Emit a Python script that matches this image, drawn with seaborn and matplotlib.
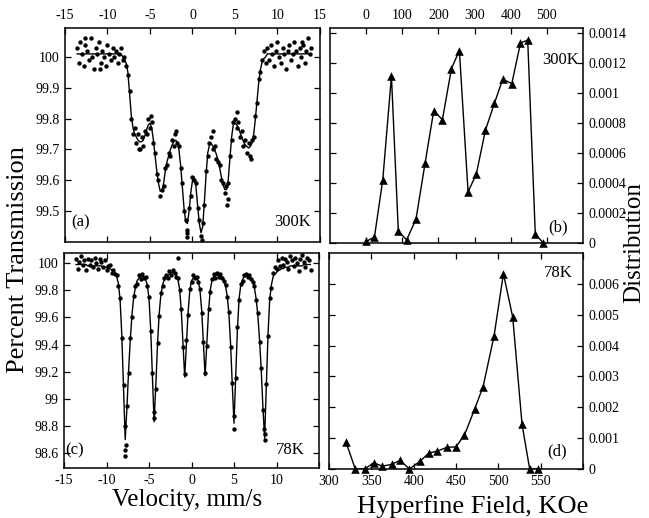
import numpy as np
import pandas as pd
import seaborn as sns
import matplotlib.pyplot as plt

sns.set_theme(style="ticks")
plt.rcParams['font.family'] = ['Liberation Serif', 'DejaVu Serif']

# ---- Mossbauer spectra: velocity channels (mm/s) ----
vel = [-13.6, -13.4, -13.2, -13.0, -12.8, -12.6, -12.4, -12.2, -12.0, -11.8,
       -11.6, -11.4, -11.2, -11.0, -10.8, -10.6, -10.4, -10.2, -10.0, -9.8,
       -9.6, -9.4, -9.2, -9.0, -8.8, -8.6, -8.4, -8.2, -8.0, -7.8,
       -7.6, -7.4, -7.2, -7.0, -6.8, -6.6, -6.4, -6.2, -6.0, -5.8,
       -5.6, -5.4, -5.2, -5.0, -4.8, -4.6, -4.4, -4.2, -4.0, -3.8,
       -3.6, -3.4, -3.2, -3.0, -2.8, -2.6, -2.4, -2.2, -2.0, -1.8,
       -1.6, -1.4, -1.2, -1.0, -0.8, -0.6, -0.4, -0.2, 0.0, 0.2,
       0.4, 0.6, 0.8, 1.0, 1.2, 1.4, 1.6, 1.8, 2.0, 2.2,
       2.4, 2.6, 2.8, 3.0, 3.2, 3.4, 3.6, 3.8, 4.0, 4.2,
       4.4, 4.6, 4.8, 5.0, 5.2, 5.4, 5.6, 5.8, 6.0, 6.2,
       6.4, 6.6, 6.8, 7.0, 7.2, 7.4, 7.6, 7.8, 8.0, 8.2,
       8.4, 8.6, 8.8, 9.0, 9.2, 9.4, 9.6, 9.8, 10.0, 10.2,
       10.4, 10.6, 10.8, 11.0, 11.2, 11.4, 11.6, 11.8, 12.0, 12.2,
       12.4, 12.6, 12.8, 13.0, 13.2, 13.4, 13.6, 13.8, 14.0]

# 300K: measured points and fitted curve (% transmission)
trans_300 = [100.03, 99.98, 100.05, 100.01, 99.97, 100.04, 100.02, 99.99, 100.06, 100.00,
             99.96, 100.03, 100.01, 100.05, 99.98, 100.02, 100.00, 99.97, 100.04, 100.01,
             99.99, 100.03, 100.00, 100.02, 99.98, 100.01, 100.03, 99.99, 100.00, 99.97,
             99.94, 99.89, 99.80, 99.75, 99.77, 99.72, 99.75, 99.70, 99.74, 99.71,
             99.76, 99.75, 99.80, 99.77, 99.79, 99.72, 99.69, 99.62, 99.60, 99.55,
             99.57, 99.58, 99.64, 99.65, 99.69, 99.68, 99.73, 99.71, 99.75, 99.72,
             99.71, 99.64, 99.59, 99.50, 99.47, 99.44, 99.51, 99.55, 99.61, 99.60,
             99.59, 99.51, 99.47, 99.42, 99.46, 99.52, 99.63, 99.68, 99.72, 99.74,
             99.70, 99.71, 99.67, 99.66, 99.65, 99.60, 99.59, 99.56, 99.58, 99.59,
             99.68, 99.73, 99.79, 99.80, 99.77, 99.79, 99.74, 99.76, 99.71, 99.73,
             99.69, 99.72, 99.68, 99.73, 99.74, 99.81, 99.85, 99.93, 99.95, 99.99,
             100.02, 99.98, 100.03, 99.99, 100.04, 100.01, 99.97, 100.02, 100.05, 100.00,
             99.98, 100.03, 100.01, 99.96, 100.02, 100.04, 99.99, 100.01, 100.05, 100.02,
             99.97, 100.03, 100.00, 100.04, 99.98, 100.02, 100.06, 100.01, 100.03]
fit_300 = [100.01, 100.01, 100.01, 100.01, 100.01, 100.01, 100.01, 100.01, 100.01, 100.01,
           100.01, 100.01, 100.01, 100.01, 100.01, 100.01, 100.01, 100.01, 100.01, 100.01,
           100.01, 100.01, 100.01, 100.01, 100.01, 100.01, 100.01, 100.00, 99.99, 99.98,
           99.95, 99.88, 99.81, 99.77, 99.75, 99.74, 99.73, 99.725, 99.725, 99.73,
           99.745, 99.765, 99.78, 99.785, 99.77, 99.73, 99.68, 99.63, 99.59, 99.565,
           99.565, 99.59, 99.63, 99.66, 99.68, 99.70, 99.715, 99.725, 99.73, 99.725,
           99.70, 99.65, 99.58, 99.51, 99.465, 99.46, 99.50, 99.56, 99.60, 99.61,
           99.58, 99.52, 99.46, 99.43, 99.45, 99.53, 99.62, 99.69, 99.715, 99.72,
           99.71, 99.70, 99.685, 99.665, 99.64, 99.61, 99.585, 99.57, 99.57, 99.60,
           99.67, 99.74, 99.78, 99.785, 99.78, 99.77, 99.755, 99.74, 99.725, 99.715,
           99.71, 99.705, 99.71, 99.72, 99.75, 99.80, 99.86, 99.92, 99.96, 99.985,
           99.995, 100.00, 100.01, 100.01, 100.01, 100.01, 100.01, 100.01, 100.01, 100.01,
           100.01, 100.01, 100.01, 100.01, 100.01, 100.01, 100.01, 100.01, 100.01, 100.01,
           100.01, 100.01, 100.01, 100.01, 100.01, 100.01, 100.01, 100.01, 100.01]
extra_vel_300 = [-0.7, 1.1, -0.6, 4.1, 4.2, 2.4, -1.9, -4.9, 5.2, 6.9, -6.3, -12.7, 12.9, -10.9]
extra_trans_300 = [99.415, 99.405, 99.43, 99.52, 99.54, 99.76, 99.76, 99.81, 99.82, 99.67,
                   99.70, 100.06, 100.05, 99.96]

# 78K: measured points and fitted curve (% transmission)
trans_78 = [100.03, 99.96, 100.01, 100.05, 99.99, 100.02, 99.95, 100.03, 99.99, 100.02,
            99.97, 100.04, 100.00, 99.96, 100.03, 100.01, 99.97, 100.02, 99.95, 99.98,
            99.99, 99.93, 99.95, 99.92, 99.91, 99.83, 99.74, 99.45, 99.10, 98.62,
            98.95, 99.19, 99.45, 99.60, 99.76, 99.83, 99.85, 99.91, 99.88, 99.92,
            99.89, 99.90, 99.83, 99.75, 99.50, 99.19, 98.86, 99.07, 99.41, 99.61,
            99.78, 99.83, 99.89, 99.91, 99.89, 99.94, 99.91, 99.95, 99.93, 99.90,
            99.89, 99.80, 99.66, 99.38, 99.18, 99.43, 99.62, 99.81, 99.86, 99.91,
            99.89, 99.90, 99.86, 99.81, 99.63, 99.42, 99.19, 99.39, 99.66, 99.79,
            99.88, 99.92, 99.89, 99.93, 99.90, 99.92, 99.89, 99.87, 99.84, 99.75,
            99.64, 99.38, 99.12, 98.78, 99.15, 99.53, 99.73, 99.85, 99.87, 99.91,
            99.92, 99.90, 99.91, 99.88, 99.86, 99.83, 99.73, 99.63, 99.42, 99.23,
            98.92, 98.70, 99.11, 99.46, 99.74, 99.82, 99.93, 99.97, 99.96, 100.02,
            99.98, 100.04, 99.99, 100.03, 100.01, 99.96, 100.05, 100.02, 99.98, 100.04,
            100.00, 99.94, 100.03, 100.06, 100.01, 99.97, 100.04, 100.02, 99.95]
fit_78 = [99.99, 99.99, 99.99, 99.99, 99.99, 99.99, 99.99, 99.98, 99.98, 99.98,
          99.98, 99.98, 99.98, 99.98, 99.98, 99.98, 99.97, 99.97, 99.97, 99.96,
          99.96, 99.95, 99.94, 99.93, 99.90, 99.85, 99.73, 99.47, 99.08, 98.70,
          98.93, 99.21, 99.44, 99.62, 99.75, 99.82, 99.87, 99.89, 99.90, 99.90,
          99.90, 99.88, 99.84, 99.74, 99.51, 99.17, 98.83, 99.10, 99.40, 99.63,
          99.77, 99.84, 99.88, 99.90, 99.91, 99.92, 99.93, 99.93, 99.92, 99.91,
          99.88, 99.81, 99.65, 99.40, 99.16, 99.40, 99.64, 99.80, 99.87, 99.89,
          99.90, 99.89, 99.87, 99.80, 99.65, 99.41, 99.17, 99.41, 99.64, 99.80,
          99.87, 99.90, 99.91, 99.91, 99.91, 99.90, 99.90, 99.88, 99.83, 99.76,
          99.63, 99.40, 99.10, 98.82, 99.16, 99.51, 99.74, 99.84, 99.88, 99.90,
          99.90, 99.91, 99.90, 99.89, 99.87, 99.82, 99.74, 99.62, 99.44, 99.22,
          98.94, 98.71, 99.09, 99.47, 99.73, 99.84, 99.90, 99.92, 99.93, 99.95,
          99.95, 99.96, 99.96, 99.97, 99.97, 99.97, 99.98, 99.98, 99.98, 99.98,
          99.98, 99.98, 99.98, 99.98, 99.99, 99.99, 99.99, 99.99, 99.99]
extra_vel_78 = [-7.85, -7.75, -7.8, -4.45, 4.95, 8.55, -1.6, 8.65]
extra_trans_78 = [98.58, 98.66, 98.80, 98.90, 98.87, 98.78, 100.04, 98.74]

# ---- Hyperfine field distributions ----
field_300 = [0, 23, 46, 70, 89, 112, 138, 163, 187, 211, 236, 258, 282, 305, 330,
             355, 378, 403, 427, 447, 468, 490]
dist_300 = [0.00001, 0.00004, 0.00042, 0.00111, 0.00008, 0.00002, 0.00016, 0.00053,
            0.00088, 0.00082, 0.00116, 0.00128, 0.00034, 0.00046, 0.00075, 0.00093,
            0.00109, 0.00106, 0.00133, 0.00135, 0.00006, 0.0]
field_78 = [320, 331, 342, 353, 363, 374, 384, 395, 408, 418, 428, 439, 450, 460, 472,
            482, 495, 506, 517, 528, 537, 547]
dist_78 = [0.00088, 0.0, 0.0, 0.0002, 0.00009, 0.00015, 0.00028, 0.0, 0.00026, 0.00052,
           0.00058, 0.0007, 0.00072, 0.0011, 0.00194, 0.00267, 0.00432, 0.00633,
           0.00492, 0.00145, 0.0, 0.0]

W, H = 649, 518


def box(left, top, right, bottom):
    return [left / W, 1 - bottom / H, (right - left) / W, (bottom - top) / H]


def style(ax):
    ax.tick_params(direction='in', which='both', top=True, bottom=True, left=True,
                   right=True, length=4, width=0.9, labelsize=10, colors='black', pad=4)
    for sp in ax.spines.values():
        sp.set_linewidth(1.1)
        sp.set_color('black')
    ax.set_xlabel('')
    ax.set_ylabel('')


fig = plt.figure(figsize=(6.49, 5.18), dpi=100)
ax_a = fig.add_axes(box(65, 28, 320, 242))
ax_b = fig.add_axes(box(330, 28, 583, 243))
ax_c = fig.add_axes(box(64, 253, 319, 468))
ax_d = fig.add_axes(box(329, 253, 583, 469))

# (a) 300K spectrum
sns.lineplot(x=vel, y=fit_300, ax=ax_a, color='black', lw=1.0, estimator=None, sort=False)
sns.scatterplot(x=vel + extra_vel_300, y=trans_300 + extra_trans_300, ax=ax_a,
                color='black', s=10, linewidth=0)
# (c) 78K spectrum
sns.lineplot(x=vel, y=fit_78, ax=ax_c, color='black', lw=1.0, estimator=None, sort=False)
sns.scatterplot(x=vel + extra_vel_78, y=trans_78 + extra_trans_78, ax=ax_c,
                color='black', s=10, linewidth=0)
# (b) / (d) distributions
for ax, fx, fy in [(ax_b, field_300, dist_300), (ax_d, field_78, dist_78)]:
    sns.lineplot(x=fx, y=fy, ax=ax, color='black', lw=1.0, estimator=None, sort=False)
    sns.scatterplot(x=fx, y=fy, ax=ax, color='black', marker='^', s=38,
                    linewidth=0, clip_on=False, zorder=5)

for ax in (ax_a, ax_b, ax_c, ax_d):
    style(ax)

vticks = [-15, -10, -5, 0, 5, 10, 15]
ax_a.set_xlim(-15, 15)
ax_a.set_ylim(99.40, 100.094)
ax_a.set_xticks(vticks, ['-15', '-10', '-5', '0', '5', '10', '15'])
ax_a.set_yticks([99.5, 99.6, 99.7, 99.8, 99.9, 100.0],
                ['99.5', '99.6', '99.7', '99.8', '99.9', '100'])
ax_a.tick_params(labeltop=True, labelbottom=False)

ax_c.set_xlim(-15, 15)
ax_c.set_ylim(98.49, 100.075)
ax_c.set_xticks(vticks, ['-15', '-10', '-5', '0', '5', '10', ''])
ax_c.set_yticks([98.6, 98.8, 99.0, 99.2, 99.4, 99.6, 99.8, 100.0],
                ['98.6', '98.8', '99', '99.2', '99.4', '99.6', '99.8', '100'])

ax_b.set_xlim(-100, 600)
ax_b.set_ylim(0, 0.00143)
ax_b.set_xticks([0, 100, 200, 300, 400, 500], ['0', '100', '200', '300', '400', '500'])
ax_b.set_yticks([0, 0.0002, 0.0004, 0.0006, 0.0008, 0.001, 0.0012, 0.0014],
                ['0', '0.0002', '0.0004', '0.0006', '0.0008', '0.001', '0.0012', '0.0014'])
ax_b.tick_params(labeltop=True, labelbottom=False, labelleft=False, labelright=True)

ax_d.set_xlim(300, 600)
ax_d.set_ylim(0, 0.0070)
ax_d.set_xticks([300, 350, 400, 450, 500, 550, 600],
                ['300', '350', '400', '450', '500', '550', ''])
ax_d.set_yticks([0, 0.001, 0.002, 0.003, 0.004, 0.005, 0.006],
                ['0', '0.001', '0.002', '0.003', '0.004', '0.005', '0.006'])
ax_d.tick_params(labelleft=False, labelright=True)


def ftext(px, py, s, **kw):
    fig.text(px / W, 1 - py / H, s, ha='center', va='center', color='black', **kw)


ftext(81, 222, '(a)', fontsize=12)
ftext(293, 222, '300K', fontsize=12)
ftext(558, 227, '(b)', fontsize=12)
ftext(561, 60, '300K', fontsize=12)
ftext(75, 450, '(c)', fontsize=12)
ftext(290, 450, '78K', fontsize=12)
ftext(557, 451, '(d)', fontsize=12)
ftext(558, 273, '78K', fontsize=12)

ftext(18, 260, 'Percent Transmission', fontsize=19, rotation=90)
ftext(634, 243, 'Distribution', fontsize=18, rotation=90)
ftext(187, 500, 'Velocity, mm/s', fontsize=18)
ftext(473, 507, 'Hyperfine Field, KOe', fontsize=19)

fig.savefig('out.png', dpi=100, facecolor='white')
